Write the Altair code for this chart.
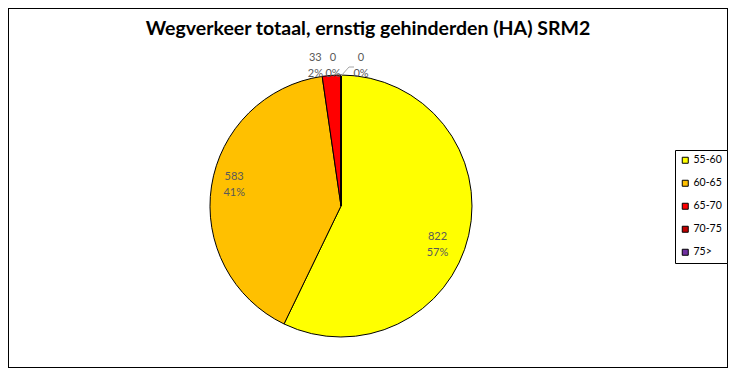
import altair as alt
import pandas as pd

TITLE = "Wegverkeer totaal, ernstig gehinderden (HA) SRM2"
categories = ["55-60", "60-65", "65-70", "70-75", "75>"]
values = [822, 583, 33, 0, 0]
percents = ["57%", "41%", "2%", "0%", "0%"]
colors = ["#FFFF00", "#FFC000", "#FF0000", "#C00000", "#7030A0"]

df = pd.DataFrame({
    "cat": categories,
    "value": values,
    "idx": list(range(len(categories))),
    "label": [f"{v}\n{p}" for v, p in zip(values, percents)],
})

CX, CY, R = 333, 198, 131
FONT = "Lato"
LABEL_COLOR = "#595959"

base = alt.Chart(df)

color = alt.Color(
    "cat:N",
    sort=categories,
    scale=alt.Scale(domain=categories, range=colors),
    legend=alt.Legend(title=None, orient="none", legendX=667, legendY=142),
)

pie = base.mark_arc(outerRadius=R, stroke="black", strokeWidth=1).encode(
    theta=alt.Theta("value:Q", stack=True),
    color=color,
    order=alt.Order("idx:Q"),
    x=alt.value(CX),
    y=alt.value(CY),
)

labelled = base.transform_window(
    cum="sum(value)", sort=[alt.SortField("idx")], frame=[None, 0]
).transform_calculate(mid="datum.cum - datum.value / 2")


def label_layer(cats, radius, dx=0, dy=0):
    return labelled.transform_filter(
        alt.FieldOneOfPredicate(field="cat", oneOf=cats)
    ).mark_text(
        radius=radius, dx=dx, dy=dy, lineBreak="\n", fontSize=11, font=FONT,
        color=LABEL_COLOR, lineHeight=16, align="center", baseline="middle",
    ).encode(
        theta=alt.Theta("mid:Q", stack=None),
        text="label:N",
        x=alt.value(CX),
        y=alt.value(CY),
    )


l1 = label_layer(["55-60"], 100, -1, 9)
l2 = label_layer(["60-65"], 100, -8, -14)
l3 = label_layer(["65-70"], 148, -15)
l4 = label_layer(["70-75"], 148, -8)
l5 = label_layer(["75>"], 148, 20)

leader_rule1 = alt.Chart().mark_rule(color="#A6A6A6", strokeWidth=1).encode(
    x=alt.value(CX), y=alt.value(CY - R + 1), x2=alt.value(CX + 8), y2=alt.value(CY - R - 8)
)
leader_rule2 = alt.Chart().mark_rule(color="#A6A6A6", strokeWidth=1).encode(
    x=alt.value(CX + 8), y=alt.value(CY - R - 8), x2=alt.value(CX + 13), y2=alt.value(CY - R - 8)
)

chart = alt.layer(pie, l1, l2, l3, l4, l5, leader_rule1, leader_rule2).properties(
    width=720,
    height=360,
    padding=0,
    autosize=alt.AutoSizeParams(type="none"),
    title=alt.TitleParams(
        TITLE, font=FONT, fontSize=19.5, fontWeight="bold", color="black",
        anchor="middle", offset=-31,
    ),
).configure_view(
    stroke="black", strokeWidth=2
).configure_legend(
    strokeColor="black", padding=5, symbolType="square", symbolSize=36,
    symbolStrokeColor="black", symbolStrokeWidth=1, labelFontSize=10.5,
    labelFont=FONT, labelColor="black", rowPadding=12, labelOffset=3,
    fillColor="white",
)

chart.save("out.html", embed_options={"renderer": "svg", "actions": False})
